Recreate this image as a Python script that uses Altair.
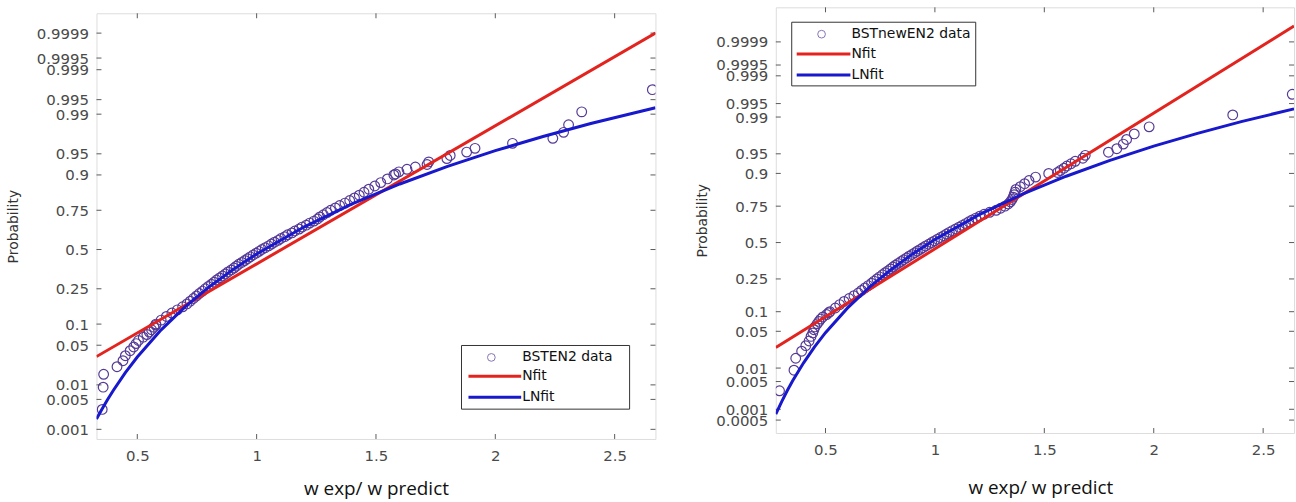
import altair as alt
import pandas as pd
from statistics import NormalDist

ND = NormalDist()

# ---------------- data ----------------
x_ticks = [0.5, 1, 1.5, 2, 2.5]
prob_ticks_left = [0.001, 0.005, 0.01, 0.05, 0.1, 0.25, 0.5, 0.75, 0.9, 0.95, 0.99, 0.995, 0.999, 0.9995, 0.9999]
prob_labels_left = ["0.001", "0.005", "0.01", "0.05", "0.1", "0.25", "0.5", "0.75", "0.9", "0.95", "0.99", "0.995", "0.999", "0.9995", "0.9999"]
prob_ticks_right = [0.0005] + prob_ticks_left
prob_labels_right = ["0.0005"] + prob_labels_left

# plotting positions (probabilities) of the data circles, shared by both panels
plot_prob = [
    0.003, 0.009, 0.016, 0.022, 0.028, 0.034, 0.041, 0.047, 0.053, 0.059, 0.066, 0.072, 0.078, 0.084, 0.091, 0.097,
    0.1, 0.1125, 0.125, 0.1375, 0.15, 0.1625, 0.175, 0.1875, 0.2, 0.2125, 0.225, 0.2375, 0.25, 0.2625, 0.275, 0.2875,
    0.3, 0.3125, 0.325, 0.3375, 0.35, 0.3625, 0.375, 0.3875, 0.4, 0.4125, 0.425, 0.4375, 0.45, 0.4625, 0.475, 0.4875,
    0.5, 0.5125, 0.525, 0.5375, 0.55, 0.5625, 0.575, 0.5875, 0.6, 0.6125, 0.625, 0.6375, 0.65, 0.6625, 0.675, 0.6875,
    0.7, 0.7125, 0.725, 0.7375, 0.75, 0.7625, 0.775, 0.7875, 0.8, 0.8125, 0.825, 0.8375, 0.85, 0.8625, 0.875, 0.8875, 0.9,
    0.903, 0.909, 0.916, 0.922, 0.928, 0.934, 0.941, 0.947, 0.953, 0.959, 0.966, 0.972, 0.978, 0.984, 0.991, 0.997,
]

left_x = [
    0.353, 0.357, 0.359, 0.415, 0.440, 0.450, 0.470, 0.485, 0.495, 0.505, 0.525, 0.540, 0.550, 0.560, 0.570, 0.578,
    0.578, 0.600, 0.622, 0.645, 0.668, 0.690, 0.708, 0.722, 0.735, 0.748,
    0.760, 0.773, 0.785, 0.797, 0.810, 0.822, 0.832, 0.845, 0.857, 0.869,
    0.880, 0.893, 0.905, 0.915, 0.925, 0.938, 0.950, 0.962, 0.973, 0.985,
    0.998, 1.010, 1.022, 1.036, 1.050, 1.062, 1.075, 1.090, 1.102, 1.118,
    1.130, 1.148, 1.160, 1.178, 1.190, 1.208, 1.222, 1.240, 1.255, 1.265,
    1.280, 1.295, 1.310, 1.330, 1.348, 1.370, 1.390, 1.410, 1.430, 1.450,
    1.470, 1.495, 1.520, 1.548, 1.575,
    1.582, 1.596, 1.630, 1.665, 1.714, 1.721, 1.797, 1.811, 1.880, 1.915, 2.072, 2.241, 2.286, 2.307, 2.362, 2.658,
]

right_x = [
    0.290, 0.356, 0.364, 0.391, 0.410, 0.425, 0.434, 0.442, 0.447, 0.452, 0.462, 0.470, 0.478, 0.488, 0.505, 0.515,
    0.520, 0.545, 0.565, 0.585, 0.608, 0.630, 0.650, 0.665, 0.680, 0.695,
    0.710, 0.722, 0.735, 0.747, 0.760, 0.772, 0.785, 0.797, 0.808, 0.820,
    0.832, 0.845, 0.857, 0.870, 0.882, 0.895, 0.908, 0.920, 0.933, 0.945,
    0.958, 0.972, 0.985, 0.998, 1.012, 1.025, 1.040, 1.053, 1.066, 1.080,
    1.095, 1.110, 1.125, 1.140, 1.155, 1.170, 1.187, 1.205, 1.225, 1.250,
    1.280, 1.300, 1.320, 1.335, 1.345, 1.352, 1.358, 1.362, 1.366, 1.370,
    1.390, 1.410, 1.430, 1.460, 1.520,
    1.560, 1.573, 1.590, 1.603, 1.622, 1.641, 1.676, 1.687, 1.793, 1.831, 1.861, 1.876, 1.911, 1.979, 2.361, 2.633,
]

# normal fit lines (straight on probability paper): end points
left_nfit_x = [0.329, 2.671]
left_nfit_p = [0.0329, 0.9999]
right_nfit_x = [0.273, 2.641]
right_nfit_p = [0.0258, 0.99997]

# lognormal fit curves
left_lnfit_x = [0.329, 0.35, 0.375, 0.4, 0.45, 0.5, 0.6, 0.7, 0.8, 0.9, 1.0, 1.2, 1.4, 1.6, 1.8, 2.0, 2.2, 2.4, 2.671]
left_lnfit_p = [0.0018, 0.0029, 0.0049, 0.0078, 0.0172, 0.0324, 0.0837, 0.162, 0.259, 0.365, 0.470, 0.652, 0.784,
                0.870, 0.9235, 0.9553, 0.9739, 0.9848, 0.9926]
right_lnfit_x = [0.273, 0.3, 0.325, 0.35, 0.4, 0.45, 0.5, 0.6, 0.7, 0.8, 0.9, 1.0, 1.2, 1.4, 1.6, 1.8, 2.0, 2.2, 2.4, 2.641]
right_lnfit_p = [0.00074, 0.0016, 0.0030, 0.0052, 0.0129, 0.0266, 0.0474, 0.112, 0.203, 0.309, 0.4186, 0.5229, 0.6957,
                 0.815, 0.8905, 0.936, 0.963, 0.9785, 0.9875, 0.9934]

# ---------------- styles ----------------
RED = "#e3231e"
BLUE = "#1818cc"
PURPLE = "#553a96"
AXIS_GREY = "#5a5a5a"
LABEL_GREY = "#4a4a4a"
FONT = "DejaVu Sans"
TITLE_FONT = "Open Sans"


def q(p):
    return ND.inv_cdf(p)


def label_expr(zs, labels):
    expr = f"'{labels[-1]}'"
    for i in range(len(zs) - 2, -1, -1):
        mid = (zs[i] + zs[i + 1]) / 2
        expr = f"datum.value < {mid:.5f} ? '{labels[i]}' : ({expr})"
    return expr


def panel(xs, ps, ln_x, ln_p, n_x, n_p, ticks_p, tick_labels, xdom, zdom, W, H,
          legend_name, leg, title_x, title_y, ytitle_x):
    zt = [q(p) for p in ticks_p]
    xscale = alt.Scale(domain=xdom, nice=False, zero=False)
    yscale = alt.Scale(domain=zdom, nice=False, zero=False)

    def X():
        return alt.X("x:Q", scale=xscale, axis=alt.Axis(
            values=x_ticks, format="~g", ticks=False, tickSize=0, domain=False, grid=False,
            labelFont=FONT, labelFontSize=15, labelColor=LABEL_GREY, labelPadding=10,
            labelFlush=False, labelOverlap=False,
            title="w exp/ w predict", titleFont=TITLE_FONT, titleFontSize=19,
            titleFontWeight="normal", titleColor="#111111", titleX=title_x, titleY=title_y,
            titleBaseline="alphabetic", titleAnchor="middle", titleAlign="center"))

    def Y():
        return alt.Y("z:Q", scale=yscale, axis=alt.Axis(
            values=zt, labelExpr=label_expr(zt, tick_labels), ticks=False, tickSize=0,
            domain=False, grid=False, labelFont=FONT, labelFontSize=15, labelColor=LABEL_GREY,
            labelPadding=8, labelOverlap=False, labelFlush=False,
            title="Probability", titleFont=FONT, titleFontSize=14, titleFontWeight="normal",
            titleColor="#333333", titleAngle=-90, titleBaseline="middle", titleX=ytitle_x,
            titleY=H / 2))

    pts = pd.DataFrame({"x": xs, "z": [q(p) for p in ps]})
    nfit = pd.DataFrame({"x": n_x, "z": [q(p) for p in n_p]})
    lnfit = pd.DataFrame({"x": ln_x, "z": [q(p) for p in ln_p]})
    yt = pd.DataFrame({"z": zt})
    xt = pd.DataFrame({"x": x_ticks})
    one = pd.DataFrame({"k": [0]})

    layers = []
    # inward ticks (left/right on y, bottom/top on x)
    layers.append(alt.Chart(yt).mark_rule(color=AXIS_GREY, strokeWidth=1).encode(
        y=Y(), x=alt.value(0), x2=alt.value(5)))
    layers.append(alt.Chart(yt).mark_rule(color=AXIS_GREY, strokeWidth=1).encode(
        y=Y(), x=alt.value(W - 5), x2=alt.value(W)))
    layers.append(alt.Chart(xt).mark_rule(color=AXIS_GREY, strokeWidth=1).encode(
        x=X(), y=alt.value(H - 5), y2=alt.value(H)))
    layers.append(alt.Chart(xt).mark_rule(color=AXIS_GREY, strokeWidth=1).encode(
        x=X(), y=alt.value(0), y2=alt.value(5)))

    layers.append(alt.Chart(pts).mark_point(shape="circle", filled=False, size=95, strokeWidth=1.2,
                                            color=PURPLE, opacity=1, clip=True).encode(x=X(), y=Y()))
    layers.append(alt.Chart(nfit).mark_line(color=RED, strokeWidth=3, clip=True).encode(x=X(), y=Y()))
    layers.append(alt.Chart(lnfit).mark_line(color=BLUE, strokeWidth=3, clip=True).encode(x=X(), y=Y()))

    # legend box
    bx0, bx1, by0, by1, cx, tx, lx0, r0, r1, r2 = leg
    layers.append(alt.Chart(one).mark_rect(fill="white", stroke="#333333", strokeWidth=1).encode(
        x=alt.value(bx0), x2=alt.value(bx1), y=alt.value(by0), y2=alt.value(by1)))
    layers.append(alt.Chart(one).mark_point(shape="circle", filled=False, size=60, strokeWidth=1,
                                            color=PURPLE).encode(x=alt.value(cx), y=alt.value(r0)))
    layers.append(alt.Chart(one).mark_rule(color=RED, strokeWidth=3).encode(
        x=alt.value(lx0), x2=alt.value(tx), y=alt.value(r1)))
    layers.append(alt.Chart(one).mark_rule(color=BLUE, strokeWidth=3).encode(
        x=alt.value(lx0), x2=alt.value(tx), y=alt.value(r2)))
    for txt, yy in [(legend_name, r0), ("Nfit", r1), ("LNfit", r2)]:
        layers.append(alt.Chart(one).mark_text(align="left", baseline="middle", font=FONT, fontSize=14,
                                               color="#111111", dx=1).encode(
            x=alt.value(tx), y=alt.value(yy), text=alt.value(txt)))

    return alt.layer(*layers).properties(width=W, height=H)


left = panel(left_x, plot_prob, left_lnfit_x, left_lnfit_p, left_nfit_x, left_nfit_p,
             prob_ticks_left, prob_labels_left, [0.329, 2.671], [-3.256, 4.06], 562, 428,
             "BSTEN2 data", (367, 536, 334, 398, 397, 427, 374, 346, 365, 386),
             281, 56, -83)
right = panel(right_x, plot_prob, right_lnfit_x, right_lnfit_p, right_nfit_x, right_nfit_p,
              prob_ticks_right, prob_labels_right, [0.273, 2.641], [-3.53, 4.36], 521, 428,
              "BSTnewEN2 data", (16, 201, 15, 79, 46, 75, 21, 27, 47, 68),
              266, 61, -74)

# thin empty strip above the left panel so that it sits 5 px lower than the right one
one_row = pd.DataFrame({"k": [0]})
strip = alt.Chart(one_row).mark_point(size=0, opacity=0, strokeWidth=0).encode(
    x=alt.value(0), y=alt.value(0)
).properties(width=562, height=1, view=alt.ViewBackground(strokeOpacity=0, stroke="white"))

left_col = alt.vconcat(strip, left, spacing=4)

chart = alt.hconcat(left_col, right, spacing=38).properties(
    padding={"left": 6, "top": 5, "right": 1, "bottom": 0}
).configure_view(stroke=AXIS_GREY, strokeWidth=1).configure(background="white")

chart.save("out.html", embed_options={"renderer": "svg", "actions": False})
